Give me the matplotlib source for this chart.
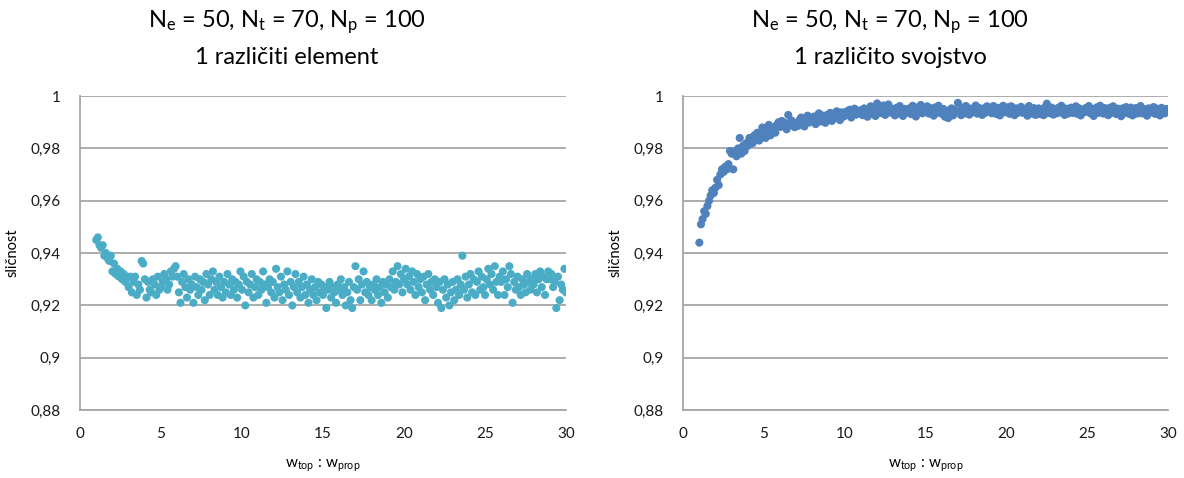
import matplotlib
matplotlib.use("Agg")
import matplotlib.pyplot as plt
from matplotlib.ticker import FuncFormatter
import numpy as np

plt.rcParams['font.family'] = ['Lato', 'DejaVu Sans']
plt.rcParams['mathtext.fontset'] = 'custom'
plt.rcParams['mathtext.rm'] = 'Lato'
plt.rcParams['mathtext.it'] = 'Lato'

# weight ratio w_top : w_prop, sampled every 0.1 from 1 to 30
x_ratio = np.round(np.arange(1.0, 30.05, 0.1), 1)

# similarity, one different element
sim_element = [
    0.945, 0.946, 0.943, 0.942, 0.943, 0.939, 0.940, 0.938, 0.937, 0.939,
    0.933, 0.936, 0.932, 0.934, 0.931, 0.933, 0.930, 0.932, 0.929, 0.931,
    0.927, 0.931, 0.925, 0.929, 0.931, 0.924, 0.928, 0.926, 0.937, 0.936,
    0.930, 0.923, 0.929, 0.926, 0.925, 0.930, 0.928, 0.924, 0.931, 0.926,
    0.927, 0.929, 0.932, 0.930, 0.926, 0.928, 0.933, 0.931, 0.934, 0.935,
    0.931, 0.925, 0.921, 0.929, 0.932, 0.927, 0.923, 0.930, 0.926, 0.928,
    0.921, 0.931, 0.927, 0.924, 0.930, 0.926, 0.929, 0.922, 0.932, 0.928,
    0.924, 0.930, 0.933, 0.926, 0.929, 0.924, 0.931, 0.927, 0.923, 0.929,
    0.925, 0.932, 0.928, 0.924, 0.930, 0.926, 0.929, 0.923, 0.928, 0.933,
    0.926, 0.931, 0.920, 0.929, 0.925, 0.928, 0.932, 0.923, 0.927, 0.930,
    0.924, 0.929, 0.926, 0.933, 0.928, 0.921, 0.927, 0.930, 0.925, 0.929,
    0.923, 0.934, 0.927, 0.925, 0.931, 0.922, 0.928, 0.926, 0.933, 0.924,
    0.929, 0.920, 0.927, 0.932, 0.925, 0.929, 0.923, 0.927, 0.931, 0.924,
    0.928, 0.921, 0.926, 0.930, 0.924, 0.927, 0.922, 0.929, 0.925, 0.928,
    0.924, 0.927, 0.919, 0.926, 0.929, 0.923, 0.927, 0.925, 0.921, 0.928,
    0.926, 0.930, 0.924, 0.927, 0.920, 0.925, 0.929, 0.922, 0.919, 0.927,
    0.935, 0.926, 0.930, 0.922, 0.928, 0.933, 0.925, 0.929, 0.924, 0.927,
    0.922, 0.928, 0.926, 0.930, 0.924, 0.927, 0.921, 0.929, 0.925, 0.928,
    0.923, 0.930, 0.927, 0.933, 0.926, 0.929, 0.935, 0.928, 0.932, 0.925,
    0.930, 0.934, 0.928, 0.931, 0.926, 0.933, 0.929, 0.924, 0.932, 0.927,
    0.930, 0.925, 0.931, 0.922, 0.928, 0.932, 0.926, 0.929, 0.924, 0.930,
    0.927, 0.921, 0.929, 0.919, 0.926, 0.930, 0.923, 0.928, 0.920, 0.925,
    0.929, 0.922, 0.926, 0.930, 0.924, 0.928, 0.939, 0.926, 0.931, 0.923,
    0.928, 0.932, 0.925, 0.930, 0.924, 0.929, 0.933, 0.926, 0.931, 0.927,
    0.924, 0.930, 0.934, 0.928, 0.932, 0.926, 0.935, 0.929, 0.924, 0.931,
    0.929, 0.933, 0.924, 0.930, 0.927, 0.935, 0.932, 0.921, 0.929, 0.926,
    0.931, 0.927, 0.924, 0.930, 0.928, 0.925, 0.932, 0.929, 0.926, 0.930,
    0.928, 0.932, 0.925, 0.930, 0.933, 0.927, 0.931, 0.924, 0.930, 0.933,
    0.930, 0.932, 0.927, 0.929, 0.919, 0.931, 0.922, 0.928, 0.926, 0.934,
    0.925,
]

# similarity, one different property
sim_property = [
    0.944, 0.951, 0.953, 0.956, 0.955, 0.958, 0.960, 0.962, 0.964, 0.963,
    0.965, 0.968, 0.966, 0.970, 0.972, 0.971, 0.973, 0.972, 0.974, 0.979,
    0.978, 0.972, 0.979, 0.977, 0.980, 0.984, 0.978, 0.981, 0.979, 0.982,
    0.981, 0.984, 0.983, 0.982, 0.985, 0.984, 0.986, 0.983, 0.985, 0.988,
    0.987, 0.984, 0.986, 0.989, 0.985, 0.987, 0.988, 0.986, 0.989, 0.990,
    0.9882, 0.9905, 0.9887, 0.9898, 0.9873, 0.9928, 0.9889, 0.9907, 0.9895, 0.9881,
    0.9897, 0.9886, 0.9909, 0.9918, 0.9894, 0.9884, 0.9912, 0.9925, 0.9899, 0.9916,
    0.9906, 0.9922, 0.9893, 0.9915, 0.9934, 0.9903, 0.9926, 0.9912, 0.9898, 0.9928,
    0.9914, 0.9936, 0.9905, 0.9927, 0.9917, 0.9942, 0.9923, 0.9908, 0.9938, 0.9921,
    0.9925, 0.9941, 0.9932, 0.9948, 0.9918, 0.9936, 0.9952, 0.9929, 0.9944, 0.9938,
    0.9946, 0.9927, 0.9953, 0.9934, 0.9921, 0.9942, 0.9961, 0.9931, 0.9949, 0.9924,
    0.9972, 0.9943, 0.9935, 0.9957, 0.9964, 0.9928, 0.9945, 0.9968, 0.9937, 0.9952,
    0.9941, 0.9926, 0.9955, 0.9933, 0.9962, 0.9944, 0.9924, 0.9951, 0.9936, 0.9947,
    0.9953, 0.9931, 0.9963, 0.9942, 0.9922, 0.9956, 0.9939, 0.9966, 0.9934, 0.9948,
    0.9945, 0.9961, 0.9933, 0.9954, 0.9941, 0.9925, 0.9957, 0.9936, 0.9963, 0.9943,
    0.9932, 0.9951, 0.9921, 0.9944, 0.9916, 0.9935, 0.9953, 0.9926, 0.9947, 0.9938,
    0.9974, 0.9943, 0.9927, 0.9956, 0.9934, 0.9962, 0.9945, 0.9929, 0.9952, 0.9937,
    0.9946, 0.9964, 0.9933, 0.9955, 0.9942, 0.9928, 0.9953, 0.9936, 0.9961, 0.9944,
    0.9951, 0.9934, 0.9962, 0.9943, 0.9931, 0.9955, 0.9926, 0.9947, 0.9963, 0.9938,
    0.9944, 0.9957, 0.9932, 0.9961, 0.9945, 0.9927, 0.9953, 0.9936, 0.9948, 0.9959,
    0.9936, 0.9952, 0.9943, 0.9925, 0.9962, 0.9941, 0.9933, 0.9954, 0.9928, 0.9945,
    0.9953, 0.9931, 0.9946, 0.9927, 0.9958, 0.9971, 0.9935, 0.9944, 0.9956, 0.9929,
    0.9942, 0.9934, 0.9955, 0.9937, 0.9963, 0.9946, 0.9928, 0.9952, 0.9933, 0.9947,
    0.9956, 0.9935, 0.9944, 0.9961, 0.9932, 0.9953, 0.9926, 0.9945, 0.9938, 0.9954,
    0.9941, 0.9962, 0.9934, 0.9951, 0.9924, 0.9943, 0.9957, 0.9936, 0.9963, 0.9945,
    0.9933, 0.9954, 0.9942, 0.9927, 0.9955, 0.9936, 0.9961, 0.9944, 0.9931, 0.9952,
    0.9943, 0.9923, 0.9953, 0.9935, 0.9958, 0.9941, 0.9932, 0.9956, 0.9926, 0.9945,
    0.9954, 0.9933, 0.9946, 0.9962, 0.9934, 0.9951, 0.9942, 0.9925, 0.9953, 0.9937,
    0.9944, 0.9958, 0.9932, 0.9952, 0.9941, 0.9926, 0.9955, 0.9943, 0.9934, 0.9951,
    0.9942,
]

title_top = r"N$_\mathrm{e}$ = 50, N$_\mathrm{t}$ = 70, N$_\mathrm{p}$ = 100"
subtitles = ["1 različiti element", "1 različito svojstvo"]
series = [sim_element, sim_property]
colors = ["#4BACC6", "#4F81BD"]
y_ticks = [0.88, 0.90, 0.92, 0.94, 0.96, 0.98, 1.00]


def comma_fmt(v, pos):
    s = ("%.2f" % v).rstrip("0").rstrip(".")
    return s.replace(".", ",")


fig = plt.figure(figsize=(11.84, 4.78), dpi=100)
axes = [fig.add_axes([0.0676, 0.142, 0.4105, 0.657]),
        fig.add_axes([0.577, 0.142, 0.4095, 0.657])]
title_x = [0.2424, 0.752]

for i, ax in enumerate(axes):
    ax.scatter(x_ratio, series[i], s=34, color=colors[i], edgecolors='none', zorder=3)
    ax.set_xlim(0, 30)
    ax.set_ylim(0.88, 1.0)
    ax.set_xticks(range(0, 31, 5))
    ax.set_yticks(y_ticks)
    ax.yaxis.set_major_formatter(FuncFormatter(comma_fmt))
    ax.grid(axis='y', color='#a6a6a6', linewidth=1.3, zorder=0)
    ax.set_axisbelow(True)
    for side in ['top', 'right']:
        ax.spines[side].set_visible(False)
    for side in ['left', 'bottom']:
        ax.spines[side].set_color('#a6a6a6')
        ax.spines[side].set_linewidth(1.3)
    ax.tick_params(length=0, labelsize=11, colors='#1a1a1a', pad=12)
    ax.tick_params(axis='y', pad=14)
    ax.set_ylabel("sličnost", fontsize=10.5, labelpad=8)
    ax.set_xlabel(r"w$_\mathrm{top}$ : w$_\mathrm{prop}$", fontsize=11, labelpad=12)
    fig.text(title_x[i], 0.953, title_top, ha='center', va='center', fontsize=17)
    fig.text(title_x[i], 0.88, subtitles[i], ha='center', va='center', fontsize=17)

fig.savefig("out.png", dpi=100)
